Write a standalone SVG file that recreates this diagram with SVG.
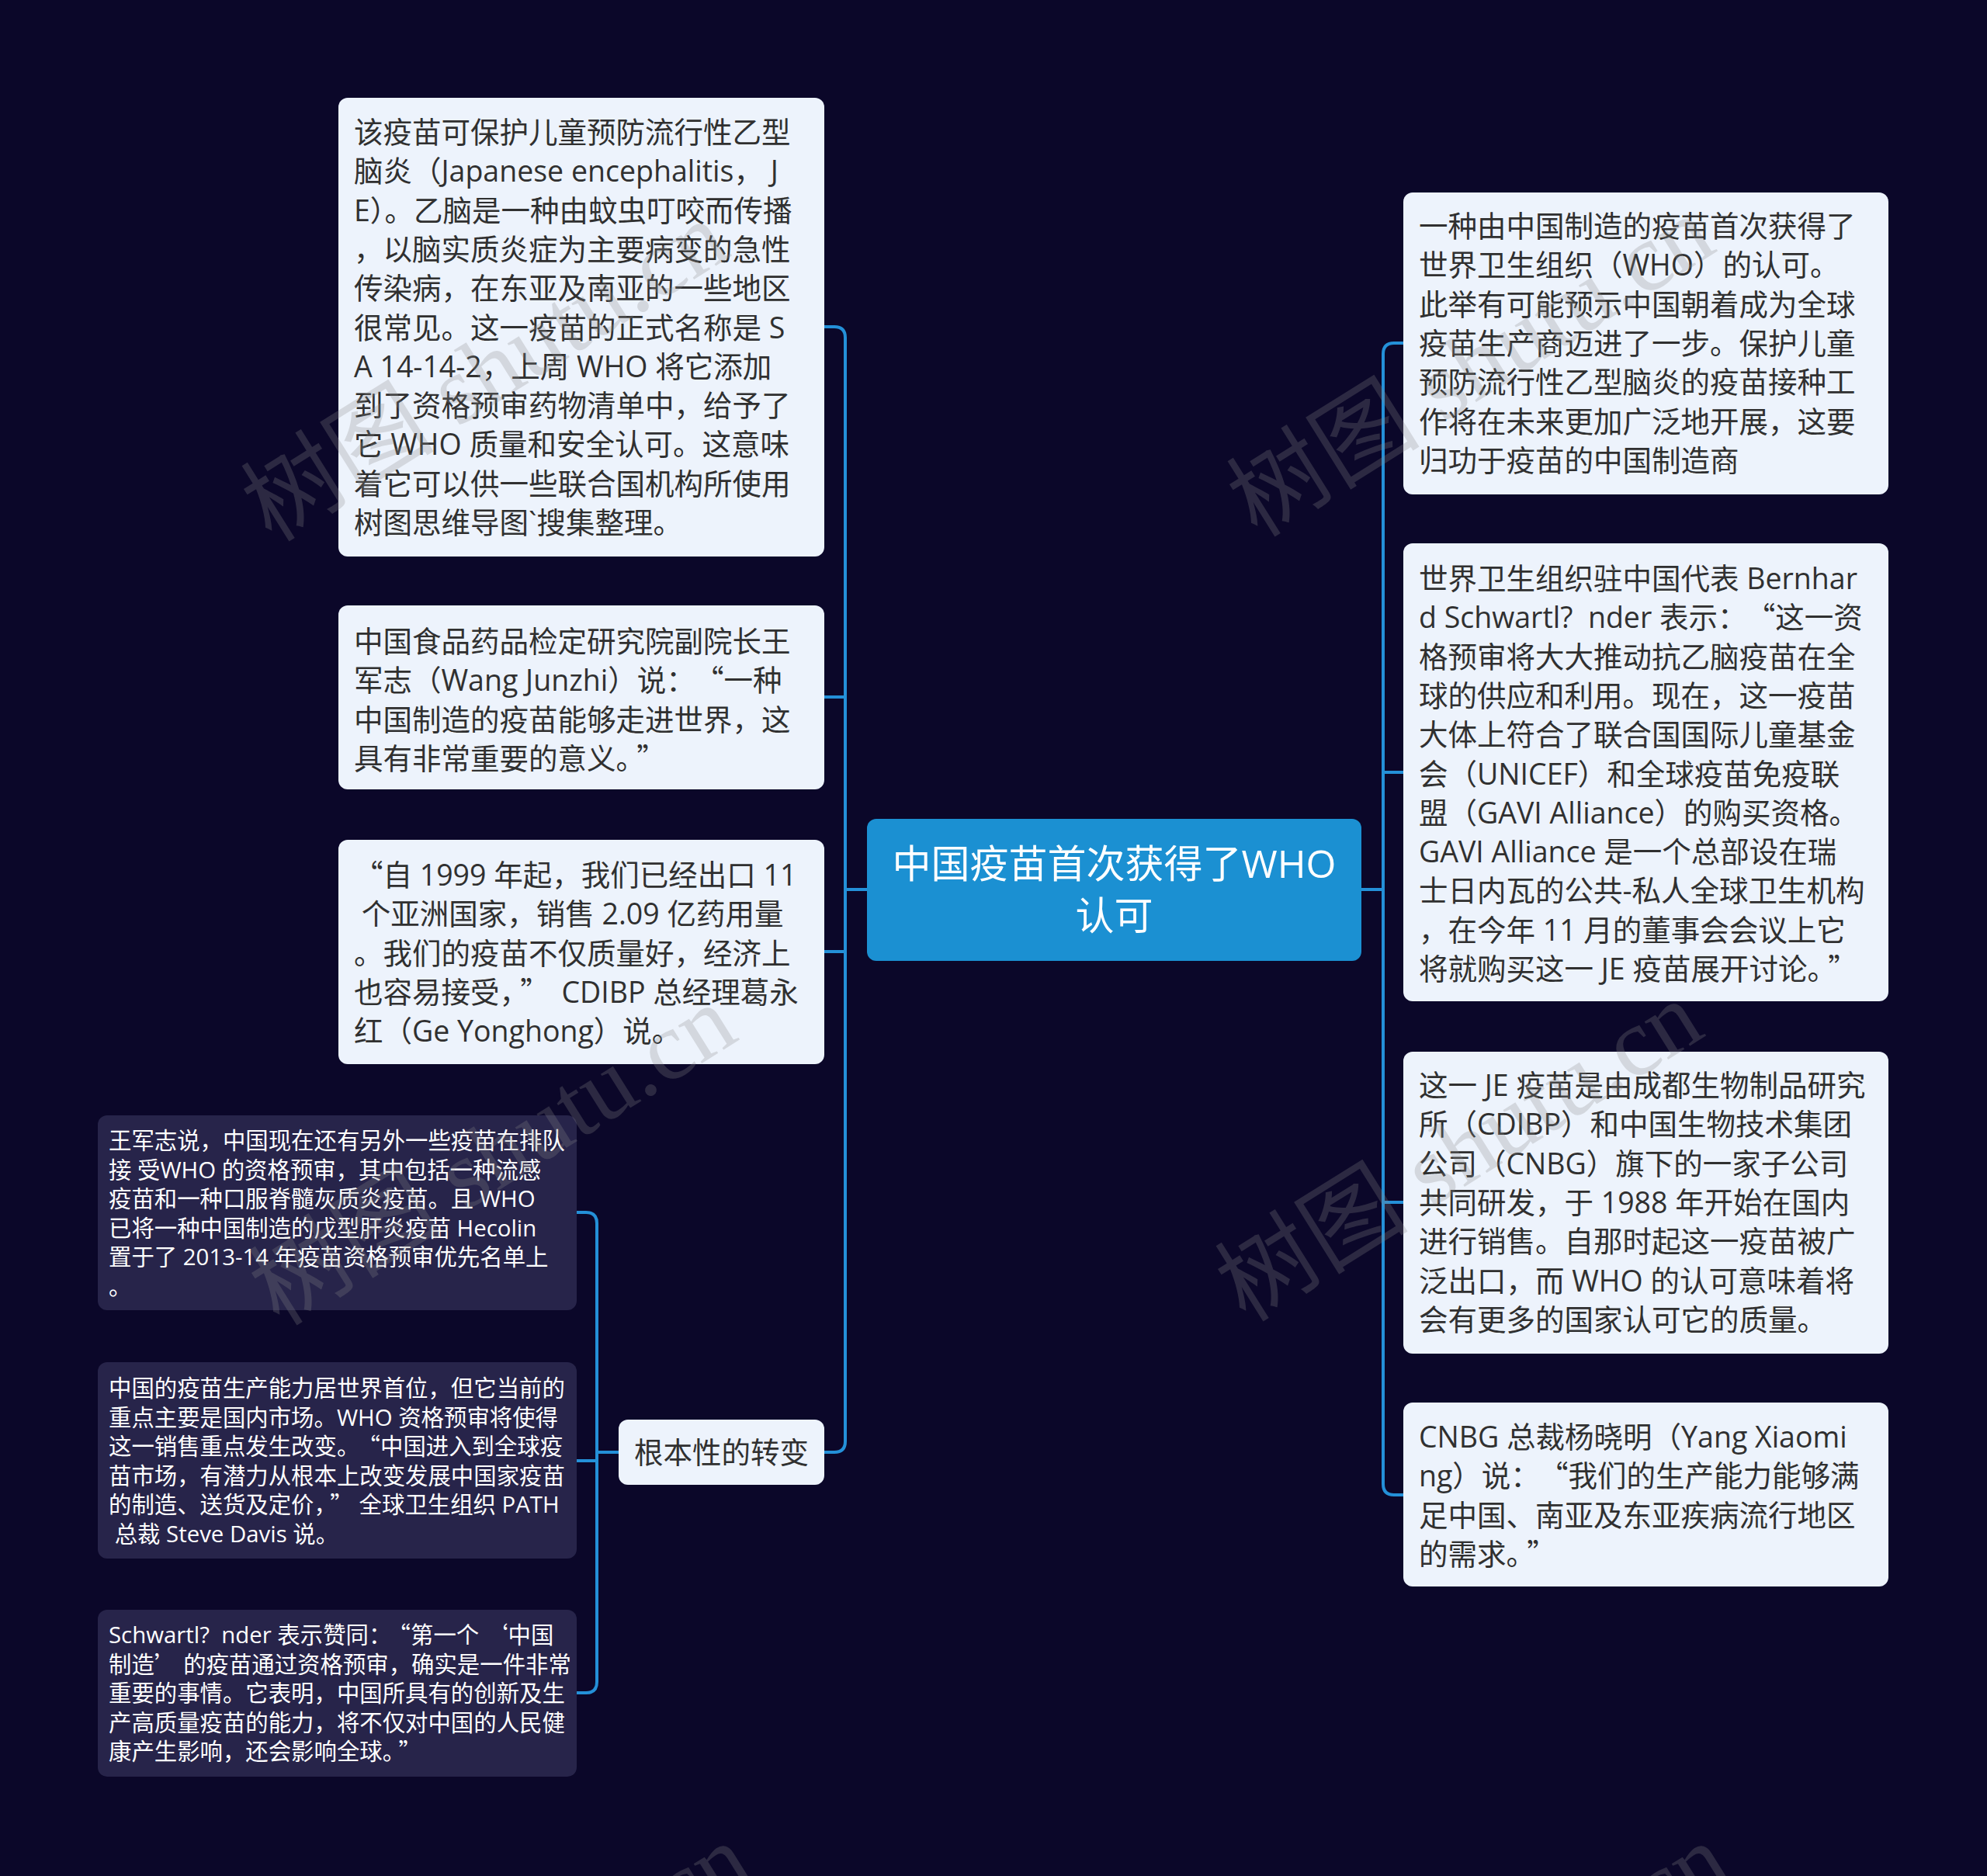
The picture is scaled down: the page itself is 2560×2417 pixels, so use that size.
<svg xmlns="http://www.w3.org/2000/svg" width="2560" height="2417" viewBox="0 0 2560 2417">
<style>
.bg{fill:#0b0729}
.lt{fill:#edf3fc}
.dk{fill:#27244a}
.root{fill:#1b90d2}
text{font-family:"Open Sans","Noto Sans CJK SC",sans-serif}
.t{font-size:37.5px;fill:#303030}
.w{font-size:29.4px;fill:#ffffff}
.rt{font-size:50px;fill:#ffffff}
.q{font-family:"Noto Sans CJK SC",sans-serif}
.edge{fill:none;stroke:#2490d8;stroke-width:4;stroke-linecap:round}
.wm{font-family:"Liberation Serif","Noto Sans CJK SC",serif;font-size:125px;fill:#8a8a8a;opacity:0.26}
</style>
<rect class="bg" x="0" y="0" width="2560" height="2417"/>

<g id="connectors">
<path class="edge" d="M1062,421 H1075 Q1089,421 1089,435 V1857 Q1089,1871 1075,1871 H1062"/>
<path class="edge" d="M1062,898 H1089"/>
<path class="edge" d="M1062,1226 H1089"/>
<path class="edge" d="M1089,1146 H1117"/>
<path class="edge" d="M1808,442 H1796 Q1782,442 1782,456 V1912 Q1782,1926 1796,1926 H1808"/>
<path class="edge" d="M1782,995 H1808"/>
<path class="edge" d="M1782,1549 H1808"/>
<path class="edge" d="M1754,1146 H1782"/>
<path class="edge" d="M743,1562 H755 Q769,1562 769,1576 V2167 Q769,2181 755,2181 H743"/>
<path class="edge" d="M743,1882 H769"/>
<path class="edge" d="M769,1871 H797"/>
</g>

<g id="root">
<rect class="root" x="1117" y="1055" width="637" height="183" rx="12"/>
<text class="rt" text-anchor="middle"><tspan x="1435.5" y="1131">中国疫苗首次获得了WHO</tspan><tspan x="1435.5" y="1198">认可</tspan></text>
</g>

<g id="node-l1">
<rect class="lt" x="436" y="126" width="626" height="591" rx="12"/>
<text class="t" xml:space="preserve"><tspan x="456" y="184">该疫苗可保护儿童预防流行性乙型</tspan><tspan x="456" y="234.3">脑炎（Japanese encephalitis， J</tspan><tspan x="456" y="284.6">E）。乙脑是一种由蚊虫叮咬而传播</tspan><tspan x="456" y="334.9">，以脑实质炎症为主要病变的急性</tspan><tspan x="456" y="385.2">传染病，在东亚及南亚的一些地区</tspan><tspan x="456" y="435.5">很常见。这一疫苗的正式名称是 S</tspan><tspan x="456" y="485.8">A 14-14-2，上周 WHO 将它添加</tspan><tspan x="456" y="536.1">到了资格预审药物清单中，给予了</tspan><tspan x="456" y="586.4">它 WHO 质量和安全认可。这意味</tspan><tspan x="456" y="636.7">着它可以供一些联合国机构所使用</tspan><tspan x="456" y="687">树图思维导图`搜集整理。</tspan></text>
</g>

<g id="node-l2">
<rect class="lt" x="436" y="780" width="626" height="237" rx="12"/>
<text class="t" xml:space="preserve"><tspan x="456" y="840">中国食品药品检定研究院副院长王</tspan><tspan x="456" y="890.3">军志（Wang Junzhi）说：<tspan class="q" dx="18">“</tspan>一种</tspan><tspan x="456" y="940.6">中国制造的疫苗能够走进世界，这</tspan><tspan x="456" y="990.9">具有非常重要的意义。<tspan class="q" dx="8">”</tspan></tspan></text>
</g>

<g id="node-l3">
<rect class="lt" x="436" y="1082" width="626" height="289" rx="12"/>
<text class="t" xml:space="preserve"><tspan x="456" y="1141"><tspan class="q">“</tspan>自 1999 年起，我们已经出口 11</tspan><tspan x="456" y="1191.3"> 个亚洲国家，销售 2.09 亿药用量</tspan><tspan x="456" y="1241.6">。我们的疫苗不仅质量好，经济上</tspan><tspan x="456" y="1291.9">也容易接受，<tspan class="q" dx="8">”</tspan><tspan dx="6"> CDIBP 总经理葛永</tspan></tspan><tspan x="456" y="1342.2">红（Ge Yonghong）说。</tspan></text>
</g>

<g id="node-fundamental">
<rect class="lt" x="797" y="1829" width="265" height="84" rx="12"/>
<text class="t" text-anchor="middle" x="929.5" y="1885">根本性的转变</text>
</g>

<g id="node-r1">
<rect class="lt" x="1808" y="248" width="625" height="389" rx="12"/>
<text class="t" xml:space="preserve"><tspan x="1828" y="305">一种由中国制造的疫苗首次获得了</tspan><tspan x="1828" y="355.3">世界卫生组织（WHO）的认可。</tspan><tspan x="1828" y="405.6">此举有可能预示中国朝着成为全球</tspan><tspan x="1828" y="455.9">疫苗生产商迈进了一步。保护儿童</tspan><tspan x="1828" y="506.2">预防流行性乙型脑炎的疫苗接种工</tspan><tspan x="1828" y="556.5">作将在未来更加广泛地开展，这要</tspan><tspan x="1828" y="606.8">归功于疫苗的中国制造商</tspan></text>
</g>

<g id="node-r2">
<rect class="lt" x="1808" y="700" width="625" height="590" rx="12"/>
<text class="t" xml:space="preserve"><tspan x="1828" y="759">世界卫生组织驻中国代表 Bernhar</tspan><tspan x="1828" y="809.3">d Schwartl?  nder 表示：<tspan class="q" dx="18">“</tspan>这一资</tspan><tspan x="1828" y="859.6">格预审将大大推动抗乙脑疫苗在全</tspan><tspan x="1828" y="909.9">球的供应和利用。现在，这一疫苗</tspan><tspan x="1828" y="960.2">大体上符合了联合国国际儿童基金</tspan><tspan x="1828" y="1010.5">会（UNICEF）和全球疫苗免疫联</tspan><tspan x="1828" y="1060.8">盟（GAVI Alliance）的购买资格。</tspan><tspan x="1828" y="1111.1">GAVI Alliance 是一个总部设在瑞</tspan><tspan x="1828" y="1161.4">士日内瓦的公共-私人全球卫生机构</tspan><tspan x="1828" y="1211.7">，在今年 11 月的董事会会议上它</tspan><tspan x="1828" y="1262">将就购买这一 JE 疫苗展开讨论。<tspan class="q" dx="8">”</tspan></tspan></text>
</g>

<g id="node-r3">
<rect class="lt" x="1808" y="1355" width="625" height="389" rx="12"/>
<text class="t" xml:space="preserve"><tspan x="1828" y="1412">这一 JE 疫苗是由成都生物制品研究</tspan><tspan x="1828" y="1462.3">所（CDIBP）和中国生物技术集团</tspan><tspan x="1828" y="1512.6">公司（CNBG）旗下的一家子公司</tspan><tspan x="1828" y="1562.9">共同研发，于 1988 年开始在国内</tspan><tspan x="1828" y="1613.2">进行销售。自那时起这一疫苗被广</tspan><tspan x="1828" y="1663.5">泛出口，而 WHO 的认可意味着将</tspan><tspan x="1828" y="1713.8">会有更多的国家认可它的质量。</tspan></text>
</g>

<g id="node-r4">
<rect class="lt" x="1808" y="1807" width="625" height="237" rx="12"/>
<text class="t" xml:space="preserve"><tspan x="1828" y="1865">CNBG 总裁杨晓明（Yang Xiaomi</tspan><tspan x="1828" y="1915.3">ng）说：<tspan class="q" dx="18">“</tspan>我们的生产能力能够满</tspan><tspan x="1828" y="1965.6">足中国、南亚及东亚疾病流行地区</tspan><tspan x="1828" y="2015.9">的需求。<tspan class="q" dx="8">”</tspan></tspan></text>
</g>

<g id="node-ll1">
<rect class="dk" x="126" y="1437" width="617" height="251" rx="12"/>
<text class="w" xml:space="preserve"><tspan x="140" y="1480">王军志说，中国现在还有另外一些疫苗在排队</tspan><tspan x="140" y="1517.6">接 受WHO 的资格预审，其中包括一种流感</tspan><tspan x="140" y="1555.2">疫苗和一种口服脊髓灰质炎疫苗。且 WHO</tspan><tspan x="140" y="1592.8">已将一种中国制造的戊型肝炎疫苗 Hecolin</tspan><tspan x="140" y="1630.4">置于了 2013-14 年疫苗资格预审优先名单上</tspan><tspan x="140" y="1668">。</tspan></text>
</g>

<g id="node-ll2">
<rect class="dk" x="126" y="1755" width="617" height="253" rx="12"/>
<text class="w" xml:space="preserve"><tspan x="140" y="1799">中国的疫苗生产能力居世界首位，但它当前的</tspan><tspan x="140" y="1836.6">重点主要是国内市场。WHO 资格预审将使得</tspan><tspan x="140" y="1874.2">这一销售重点发生改变。<tspan class="q" dx="12">“</tspan>中国进入到全球疫</tspan><tspan x="140" y="1911.8">苗市场，有潜力从根本上改变发展中国家疫苗</tspan><tspan x="140" y="1949.4">的制造、送货及定价，<tspan class="q" dx="6">”</tspan><tspan dx="8">全球卫生组织 PATH</tspan></tspan><tspan x="140" y="1987"> 总裁 Steve Davis 说。</tspan></text>
</g>

<g id="node-ll3">
<rect class="dk" x="126" y="2074" width="617" height="215" rx="12"/>
<text class="w" xml:space="preserve"><tspan x="140" y="2117">Schwartl?  nder 表示赞同：<tspan class="q" dx="10">“</tspan>第一个<tspan class="q" dx="8">‘</tspan>中国</tspan><tspan x="140" y="2154.6">制造<tspan class="q">’</tspan><tspan dx="8">的疫苗通过资格预审，确实是一件非常</tspan></tspan><tspan x="140" y="2192.2">重要的事情。它表明，中国所具有的创新及生</tspan><tspan x="140" y="2229.8">产高质量疫苗的能力，将不仅对中国的人民健</tspan><tspan x="140" y="2267.4">康产生影响，还会影响全球。<tspan class="q" dx="6">”</tspan></tspan></text>
</g>

<g id="watermark">
<text class="wm" transform="translate(350,700) rotate(-32)">树图 shutu.cn</text>
<text class="wm" transform="translate(1620,694) rotate(-32)">树图 shutu.cn</text>
<text class="wm" transform="translate(360,1710) rotate(-32)">树图 shutu.cn</text>
<text class="wm" transform="translate(1605,1705) rotate(-32)">树图 shutu.cn</text>
<text class="wm" transform="translate(380,2790) rotate(-32)">树图 shutu.cn</text>
<text class="wm" transform="translate(1640,2790) rotate(-32)">树图 shutu.cn</text>
</g>
</svg>
